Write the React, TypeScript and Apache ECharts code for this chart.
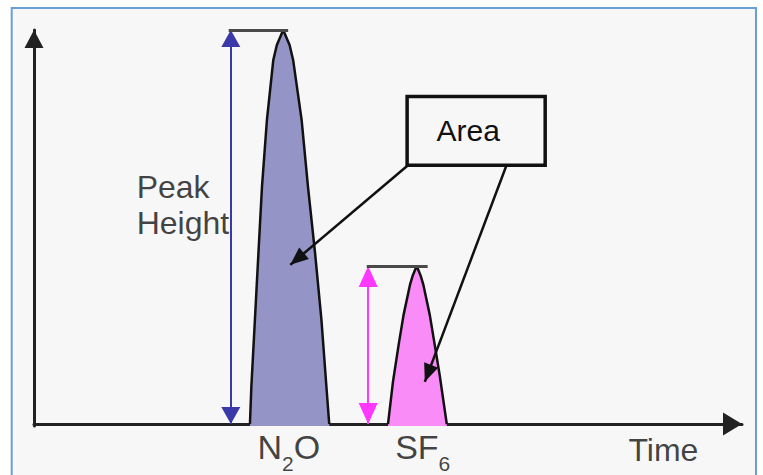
import React, { useEffect, useRef } from 'react';
import * as echarts from 'echarts';

// ---- data (time units 0..100, signal units 0..100) ----
const n2oTime = [30.5, 30.7, 31.2, 31.7, 32.2, 32.9, 33.8, 34.3, 35.2, 36.1, 36.6, 37.8, 38.7, 39.7, 40.6, 41.3, 41.7];
const n2oSignal = [0, 9.5, 26.4, 43.4, 60.2, 77.2, 92.4, 96.2, 100, 96.2, 92.4, 77.2, 60.2, 43.4, 26.4, 9.5, 0];

const sf6Time = [50.0, 50.7, 51.5, 52.2, 53.1, 53.5, 54.05, 54.6, 55.0, 55.9, 56.6, 57.3, 58.3];
const sf6Signal = [0, 10.7, 20.1, 27.7, 35.3, 37.7, 40.1, 37.7, 35.3, 27.7, 20.1, 12.4, 0];

const peakHeights = [100, 40.1];
const heightArrowX = [27.8, 47.2];
const topLineStart = [27.5, 47.0];
const topLineEnd = [35.9, 55.6];

const areaBoxCorners = [[52.7, 83.1], [72.2, 65.7]];
const areaBoxText = 'Area';
const areaArrowFrom = [[52.7, 65.5], [66.7, 65.5]];
const areaArrowTo = [[36.2, 40.4], [55.2, 10.7]];

const labelTexts = ['Peak\nHeight', '{m|N}{s|2}{m|O}', '{m|SF}{s|6}', 'Time'];
const labelX = [14.5, 36.0, 54.9, 88.9];
const labelY = [55.7, -7.0, -7.0, -6.5];

// ---- styling ----
const FONT = '"Liberation Sans", Arial, Helvetica, sans-serif';
const TEXT = '#111111';
const heightColors = ['#3b38a8', '#ff38ff'];
const fillColors = ['#9494c6', '#f98cf6'];

// triangle whose tip sits at the symbol centre (so arrow tips land on the end points)
const triPath = (w: number, h: number) =>
  `path://M${w / 2},0L${w / 2},0.01ZM${w / 2},${h}L${w},${2 * h}L0,${2 * h}Z`;

const heightArrowSizes = [[19, 34], [19, 42]];

function buildOption() {
  const peakMarkLines = [0, 1].map((i) => [
    [
      {
        coord: [heightArrowX[i], peakHeights[i]],
        symbol: triPath(20, 20),
        symbolSize: heightArrowSizes[i],
        lineStyle: { color: heightColors[i], width: 2, type: 'solid' },
      },
      { coord: [heightArrowX[i], 0], symbol: triPath(20, 20), symbolSize: heightArrowSizes[i] },
    ],
    [
      {
        coord: [topLineStart[i], peakHeights[i]],
        symbol: 'none',
        lineStyle: { color: '#4a4a4a', width: 3, type: 'solid' },
      },
      { coord: [topLineEnd[i], peakHeights[i]], symbol: 'none' },
    ],
  ]);

  const pointerLines = areaArrowFrom.map((from, i) => [
    { coord: from, symbol: 'none', lineStyle: { color: '#111', width: 2.5, type: 'solid' } },
    { coord: areaArrowTo[i], symbol: triPath(20, 20), symbolSize: [15, 36] },
  ]);

  const labelData = labelTexts.map((t, i) => ({
    value: [labelX[i], labelY[i]],
    label:
      i === 0
        ? { show: true, formatter: t, position: 'right', distance: 0, align: 'left', fontSize: 32, lineHeight: 36, fontFamily: FONT, color: TEXT }
        : { show: true, formatter: t, position: 'inside', fontSize: 32, fontFamily: FONT, color: TEXT },
  }));

  return {
    animation: false,
    backgroundColor: '#ffffff',
    graphic: [
      {
        type: 'rect',
        z: -10,
        silent: true,
        shape: { x: 11.7, y: 8, width: 744.3, height: 520 },
        style: { fill: '#f7f7f7', stroke: '#6a9fd6', lineWidth: 2 },
      },
    ],
    grid: { left: 34, right: 21, top: 30, bottom: 49, containLabel: false },
    xAxis: {
      type: 'value',
      min: 0,
      max: 100,
      axisLine: {
        show: true,
        onZero: true,
        lineStyle: { color: '#222', width: 3 },
        symbol: ['none', triPath(23, 19)],
        symbolSize: [23, 38],
      },
      axisTick: { show: false },
      axisLabel: { show: false },
      splitLine: { show: false },
    },
    yAxis: {
      type: 'value',
      min: -0.5,
      max: 100,
      axisLine: {
        show: true,
        onZero: true,
        lineStyle: { color: '#222', width: 3 },
        symbol: ['none', triPath(19, 18)],
        symbolSize: [19, 36],
      },
      axisTick: { show: false },
      axisLabel: { show: false },
      splitLine: { show: false },
    },
    series: [
      {
        name: 'N2O',
        type: 'line',
        data: n2oTime.map((t, i) => [t, n2oSignal[i]]),
        symbol: 'none',
        lineStyle: { color: '#111', width: 2.5 },
        areaStyle: { color: fillColors[0], opacity: 1, origin: 'start' },
        z: 2,
        silent: true,
        markLine: {
          silent: true,
          symbol: ['none', 'none'],
          label: { show: false },
          emphasis: { disabled: true },
          data: [...peakMarkLines[0], ...pointerLines],
        },
      },
      {
        name: 'SF6',
        type: 'line',
        data: sf6Time.map((t, i) => [t, sf6Signal[i]]),
        symbol: 'none',
        lineStyle: { color: '#111', width: 2.5 },
        areaStyle: { color: fillColors[1], opacity: 1, origin: 'start' },
        z: 2,
        silent: true,
        markLine: {
          silent: true,
          symbol: ['none', 'none'],
          label: { show: false },
          emphasis: { disabled: true },
          data: [...peakMarkLines[1]],
        },
        markArea: {
          silent: true,
          itemStyle: { color: 'rgba(0,0,0,0)', borderColor: '#111', borderWidth: 3.5 },
          label: {
            show: true,
            position: 'inside',
            offset: [-8, 0],
            fontSize: 30,
            fontFamily: FONT,
            color: TEXT,
          },
          data: [[{ coord: areaBoxCorners[0], name: areaBoxText }, { coord: areaBoxCorners[1] }]],
        },
      },
      {
        name: 'labels',
        type: 'scatter',
        symbolSize: 0,
        clip: false,
        silent: true,
        data: labelData,
        label: {
          rich: {
            m: { fontSize: 34, lineHeight: 34, verticalAlign: 'top', fontFamily: FONT, color: TEXT },
            s: { fontSize: 21, lineHeight: 44, verticalAlign: 'bottom', fontFamily: FONT, color: TEXT },
          },
        },
      },
    ],
  };
}

export default function App() {
  const ref = useRef<HTMLDivElement>(null);
  useEffect(() => {
    if (!ref.current) return;
    const chart = echarts.init(ref.current, null, { renderer: 'svg' });
    chart.setOption(buildOption() as any);
    return () => chart.dispose();
  }, []);
  return (
    <div style={{ position: 'fixed', left: 0, top: 0, width: 763, height: 475, background: '#fff' }}>
      <div ref={ref} style={{ width: 763, height: 475 }} />
    </div>
  );
}
